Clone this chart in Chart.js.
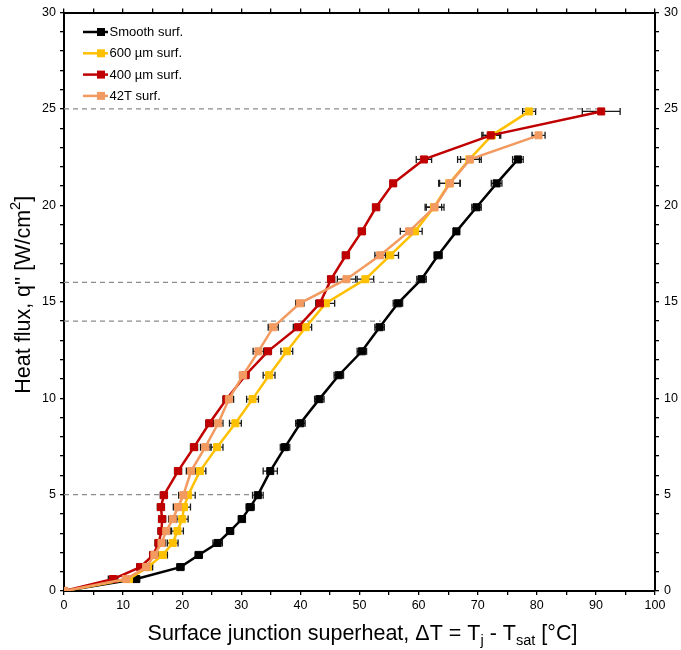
<!DOCTYPE html>
<html>
<head>
<meta charset="utf-8">
<script src="https://cdn.jsdelivr.net/npm/chart.js@4.4.1/dist/chart.umd.min.js"></script>
<style>
  body { margin: 0; background: #fff; }
  #wrap { width: 681px; height: 650px; }
</style>
</head>
<body>
<div id="wrap"><canvas id="chart" width="681" height="650"></canvas></div>
<script>
// heat flux steps shared by all runs [W/cm2]
const heatFlux = [0, 0.62, 1.24, 1.87, 2.49, 3.11, 3.73, 4.35, 4.97, 6.22, 7.46, 8.70, 9.95,
  11.19, 12.43, 13.68, 14.92, 16.17, 17.41, 18.65, 19.90, 21.14, 22.38, 23.63, 24.87];

// superheat [°C] per surface
const smoothDT = [0, 12.2, 19.7, 22.8, 26.0, 28.1, 30.1, 31.5, 32.8, 34.9, 37.4, 40.0, 43.2,
  46.5, 50.4, 53.4, 56.5, 60.5, 63.3, 66.4, 69.8, 73.2, 76.8];
const um600DT = [0, 11.0, 14.2, 16.7, 18.4, 19.2, 20.0, 20.3, 21.0, 23.0, 25.9, 29.0, 31.9,
  34.7, 37.7, 40.9, 44.3, 51.0, 55.2, 59.4, 62.6, 65.2, 68.6, 72.4, 78.7];
const um400DT = [0, 8.3, 12.9, 15.1, 16.0, 16.5, 16.6, 16.4, 16.9, 19.3, 22.0, 24.6, 27.5,
  30.7, 34.5, 39.6, 43.3, 45.2, 47.7, 50.4, 52.8, 55.7, 60.9, 72.2, 90.9];
const t42DT = [0, 10.5, 13.9, 15.3, 16.5, 17.3, 18.4, 19.3, 20.2, 21.5, 23.9, 26.1, 27.9,
  30.3, 32.9, 35.4, 39.9, 47.8, 53.5, 58.4, 62.7, 65.3, 68.7, 80.3];

// horizontal error (±) on superheat
const smoothErr = [0, 0.6, 0.6, 0.6, 0.8, 0.6, 0.6, 0.7, 0.9, 1.2, 0.8, 0.8, 0.8,
  0.8, 0.8, 0.8, 0.8, 0.8, 0.7, 0.5, 0.8, 0.9, 0.9];
const um600Err = [0, 0.8, 0.8, 0.8, 0.9, 1.0, 1.0, 1.1, 1.2, 1.0, 1.0, 1.0, 1.0,
  1.0, 1.0, 1.0, 1.5, 1.4, 1.4, 1.2, 1.3, 1.8, 2.0, 1.5, 1.1];
const um400Err = [0, 0.8, 0.6, 0.6, 0.6, 0.6, 0.6, 0.6, 0.6, 0.6, 0.6, 0.6, 0.6,
  0.6, 0.6, 0.8, 0.7, 0.6, 0.6, 0.6, 0.6, 0.5, 1.3, 1.5, 3.2];
const t42Err = [0, 0.6, 0.6, 0.6, 0.7, 0.7, 0.7, 0.8, 0.8, 0.8, 0.8, 0.8, 0.8,
  0.6, 0.9, 0.85, 0.7, 1.55, 0.9, 1.5, 1.6, 1.75, 1.6, 1.1];

// dashed marker lines: heat flux level and where they stop
const refFlux = [25, 16, 14, 5];
const refEnd = [91, 60.4, 53.6, 32.5];

const xTicks = [0, 10, 20, 30, 40, 50, 60, 70, 80, 90, 100];
const yTicks = [0, 5, 10, 15, 20, 25, 30];

const FONT = "'Liberation Sans', Arial, sans-serif";

function pts(xs) {
  return xs.map((x, i) => ({ x: x, y: heatFlux[i] }));
}

function series(label, xs, err, color, order) {
  return {
    label: label,
    data: pts(xs),
    xErr: err,
    showLine: true,
    borderColor: color,
    backgroundColor: color,
    borderWidth: 2.5,
    pointStyle: "rect",
    pointRadius: 5,
    pointBorderWidth: 1,
    pointBorderColor: color,
    pointBackgroundColor: color,
    order: order
  };
}

const refSets = refFlux.map((q, i) => ({
  label: "ref" + q,
  data: [{ x: 0, y: q }, { x: refEnd[i], y: q }],
  showLine: true,
  borderColor: "#8c8c8c",
  borderWidth: 1.3,
  borderDash: [5, 4],
  pointRadius: 0,
  order: 10,
  isRef: true
}));

const errorBars = {
  id: "errorBars",
  beforeDatasetsDraw(chart) {
    const ctx = chart.ctx;
    const xs = chart.scales.x, ys = chart.scales.y;
    ctx.save();
    ctx.strokeStyle = "#1a1a1a";
    ctx.lineWidth = 1.3;
    chart.data.datasets.forEach((ds) => {
      if (!ds.xErr) return;
      ds.data.forEach((p, i) => {
        const e = ds.xErr[i];
        if (!e) return;
        const y = ys.getPixelForValue(p.y);
        const x0 = xs.getPixelForValue(p.x - e);
        const x1 = xs.getPixelForValue(p.x + e);
        ctx.beginPath();
        ctx.moveTo(x0, y); ctx.lineTo(x1, y);
        ctx.moveTo(x0, y - 3.5); ctx.lineTo(x0, y + 3.5);
        ctx.moveTo(x1, y - 3.5); ctx.lineTo(x1, y + 3.5);
        ctx.stroke();
      });
    });
    ctx.restore();
  }
};

function drawRich(ctx, parts, size) {
  let w = 0;
  parts.forEach((p) => {
    p.size = (p.sub || p.sup) ? size * 0.68 : size;
    ctx.font = p.size + "px " + FONT;
    p.w = ctx.measureText(p.t).width;
    w += p.w;
  });
  let x = -w / 2;
  parts.forEach((p) => {
    ctx.font = p.size + "px " + FONT;
    let dy = 0;
    if (p.sub) dy = size * 0.32;
    if (p.sup) dy = -size * 0.36;
    ctx.fillText(p.t, x, dy);
    x += p.w;
  });
}

const axisTitles = {
  id: "axisTitles",
  afterDraw(chart) {
    const ctx = chart.ctx;
    const a = chart.chartArea;
    ctx.save();
    ctx.fillStyle = "#000";
    ctx.textBaseline = "middle";
    ctx.textAlign = "left";

    ctx.save();
    ctx.translate((a.left + a.right) / 2 + 3, 634);
    drawRich(ctx, [
      { t: "Surface junction superheat, \u0394T = T" },
      { t: "j", sub: true },
      { t: " - T" },
      { t: "sat", sub: true },
      { t: " [\u00B0C]" }
    ], 21.5);
    ctx.restore();

    ctx.save();
    ctx.translate(24, (a.top + a.bottom) / 2 - 7);
    ctx.rotate(-Math.PI / 2);
    drawRich(ctx, [
      { t: "Heat flux, q'' [W/cm" },
      { t: "2", sup: true },
      { t: "]" }
    ], 21.5);
    ctx.restore();

    ctx.restore();
  }
};

const legendBox = {
  id: "legendBox",
  afterDatasetsDraw(chart) {
    const ctx = chart.ctx;
    const rows = chart.data.datasets.filter((d) => !d.isRef);
    ctx.save();
    ctx.font = "13px " + FONT;
    ctx.textBaseline = "middle";
    ctx.fillStyle = "#000";
    rows.forEach((ds, i) => {
      const y = 32 + i * 21.3;
      ctx.strokeStyle = ds.borderColor;
      ctx.lineWidth = 2.5;
      ctx.beginPath();
      ctx.moveTo(83, y); ctx.lineTo(108, y);
      ctx.stroke();
      ctx.fillStyle = ds.borderColor;
      ctx.fillRect(97, y - 4, 8, 8);
      ctx.fillStyle = "#000";
      ctx.fillText(ds.label, 109.5, y + 0.5);
    });
    ctx.restore();
  }
};

function axisStyle(extra) {
  return Object.assign({
    type: "linear",
    border: { display: true, color: "#000", width: 2 },
    grid: { display: true, drawOnChartArea: false, drawTicks: true, tickLength: 4, color: "#000", lineWidth: 1.3 },
  }, extra);
}

new Chart(document.getElementById("chart"), {
  type: "scatter",
  data: {
    datasets: [
      series("Smooth surf.", smoothDT, smoothErr, "#000000", 4),
      series("600 \u00B5m surf.", um600DT, um600Err, "#FFC000", 3),
      series("400 \u00B5m surf.", um400DT, um400Err, "#C00000", 2),
      series("42T surf.", t42DT, t42Err, "#F29A60", 1),
      ...refSets
    ]
  },
  options: {
    responsive: false,
    animation: false,
    layout: { padding: 0 },
    plugins: { legend: { display: false }, tooltip: { enabled: false } },
    scales: {
      x: axisStyle({
        position: "bottom", min: 0, max: 100,
        ticks: {
          stepSize: 5, autoSkip: false, maxRotation: 0, padding: 3, color: "#000",
          font: { family: FONT, size: 12.5 },
          callback: (v) => (xTicks.includes(v) ? v : "")
        },
        afterFit: (s) => { s.height = 59; }
      }),
      x2: axisStyle({
        position: "top", min: 0, max: 100,
        ticks: { stepSize: 5, display: false },
        afterFit: (s) => { s.height = 12; }
      }),
      y: axisStyle({
        position: "left", min: 0, max: 30,
        ticks: {
          stepSize: 1, autoSkip: false, padding: 4, color: "#000",
          font: { family: FONT, size: 12.5 },
          callback: (v) => (yTicks.includes(v) ? v : "")
        },
        afterFit: (s) => { s.width = 64; }
      }),
      y2: axisStyle({
        position: "right", min: 0, max: 30,
        ticks: {
          stepSize: 1, autoSkip: false, padding: 5, color: "#000",
          font: { family: FONT, size: 12.5 },
          callback: (v) => (yTicks.includes(v) ? v : "")
        },
        afterFit: (s) => { s.width = 26; }
      })
    }
  },
  plugins: [errorBars, legendBox, axisTitles]
});
</script>
</body>
</html>
